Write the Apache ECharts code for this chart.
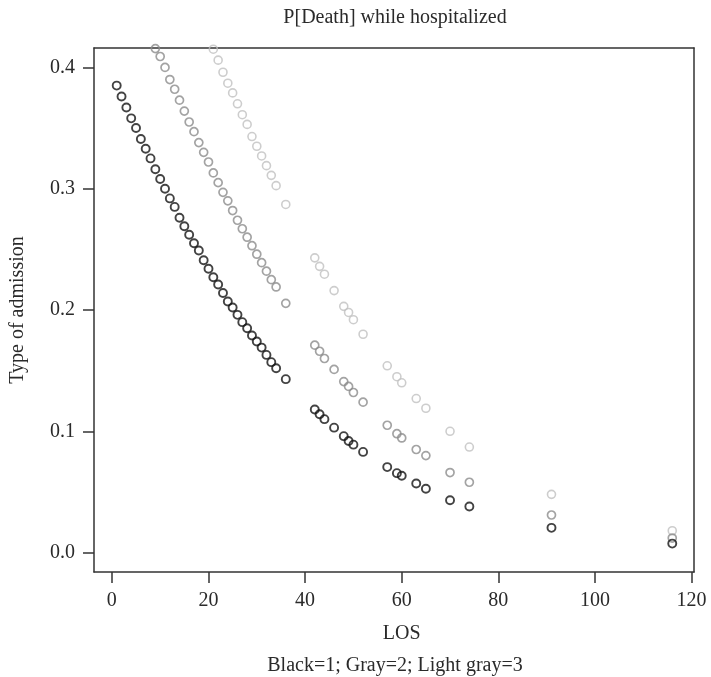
<!DOCTYPE html>
<html>
<head>
<meta charset="utf-8">
<script src="https://cdn.jsdelivr.net/npm/echarts@6/dist/echarts.min.js"></script>
<style>
  html, body { margin: 0; padding: 0; background: #fff; }
  #chart { width: 711px; height: 677px; }
</style>
</head>
<body>
<div id="chart"></div>
<script>
// LOS values per admission type
var losBlack = [1, 2, 3, 4, 5, 6, 7, 8, 9, 10, 11, 12, 13, 14, 15, 16, 17, 18, 19, 20,
  21, 22, 23, 24, 25, 26, 27, 28, 29, 30, 31, 32, 33, 34, 36,
  42, 43, 44, 46, 48, 49, 50, 52, 57, 59, 60, 63, 65, 70, 74, 91, 116]
var pBlack = [0.385, 0.376, 0.367, 0.358, 0.350, 0.341, 0.333, 0.325, 0.316, 0.308,
  0.300, 0.292, 0.285, 0.276, 0.269, 0.262, 0.255, 0.249, 0.241, 0.234,
  0.227, 0.221, 0.214, 0.207, 0.202, 0.196, 0.190, 0.185, 0.179, 0.174,
  0.169, 0.163, 0.157, 0.152, 0.143,
  0.118, 0.114, 0.110, 0.103, 0.096, 0.092, 0.089, 0.083, 0.0705, 0.0655,
  0.0634, 0.057, 0.0526, 0.0432, 0.038, 0.0204, 0.0074]

var losGray = [9, 10, 11, 12, 13, 14, 15, 16, 17, 18, 19, 20,
  21, 22, 23, 24, 25, 26, 27, 28, 29, 30, 31, 32, 33, 34, 36,
  42, 43, 44, 46, 48, 49, 50, 52, 57, 59, 60, 63, 65, 70, 74, 91, 116]
var pGray = [0.4155, 0.409, 0.400, 0.390, 0.382, 0.373, 0.364, 0.355, 0.347, 0.338,
  0.330, 0.322, 0.313, 0.305, 0.297, 0.290, 0.282, 0.274, 0.267, 0.260,
  0.253, 0.246, 0.239, 0.232, 0.225, 0.219, 0.2055,
  0.171, 0.166, 0.160, 0.151, 0.141, 0.137, 0.132, 0.124, 0.105, 0.098,
  0.0945, 0.085, 0.080, 0.066, 0.058, 0.031, 0.012]

var losLight = [21, 22, 23, 24, 25, 26, 27, 28, 29, 30, 31, 32, 33, 34, 36,
  42, 43, 44, 46, 48, 49, 50, 52, 57, 59, 60, 63, 65, 70, 74, 91, 116]
var pLight = [0.415, 0.406, 0.396, 0.387, 0.379, 0.370, 0.361, 0.353, 0.343, 0.335,
  0.327, 0.319, 0.311, 0.3025, 0.287,
  0.243, 0.236, 0.2295, 0.216, 0.203, 0.198, 0.192, 0.180, 0.154, 0.145,
  0.140, 0.127, 0.119, 0.100, 0.087, 0.048, 0.018]

// axis ranges: data range padded like R does, tick range is the labelled span
var xRange = [-3.7, 120.5]
var yRange = [-0.016, 0.416]
var xTickRange = [0, 120]
var yTickRange = [0, 0.4]

function pairs(xs, ys) {
  return xs.map(function (x, i) { return [x, ys[i]] })
}

var font = '"Liberation Serif", "DejaVu Serif", serif'
var ink = '#2a2a2a'
var lineCol = '#333'
var tickLen = 11

// plot box in pixels
var box = { left: 94, right: 17, top: 48, bottom: 105 }
var W = 711, H = 677
var plotW = W - box.left - box.right
var plotH = H - box.top - box.bottom
function xPx(v) { return box.left + (v - xRange[0]) / (xRange[1] - xRange[0]) * plotW }
function yPx(v) { return box.top + (yRange[1] - v) / (yRange[1] - yRange[0]) * plotH }

function pointSeries(name, xs, ys, color, bw) {
  return {
    name: name,
    type: 'scatter',
    xAxisIndex: 0,
    yAxisIndex: 0,
    data: pairs(xs, ys),
    symbol: 'circle',
    symbolSize: 8,
    clip: false,
    itemStyle: {
      color: 'rgba(0,0,0,0)',
      borderColor: color,
      borderWidth: bw
    }
  }
}

// tick marks are drawn as split lines of thin strips just outside the box
var tickLines = { show: true, showMinLine: true, showMaxLine: true, lineStyle: { color: lineCol, width: 1.5, type: 'solid' } }
var boxLine = { show: true, onZero: false, lineStyle: { color: lineCol, width: 1.5 } }
var labelStyle = { margin: 8, fontFamily: font, fontSize: 20, color: ink }
var nameStyle = { fontFamily: font, fontSize: 20, color: ink }

function boxAxis(gridIndex, position) {
  return {
    gridIndex: gridIndex, type: 'value', position: position, min: 0, max: 1,
    axisLine: boxLine, axisTick: { show: false }, axisLabel: { show: false },
    splitLine: { show: false }
  }
}

var chart = echarts.init(document.getElementById('chart'), null, { renderer: 'canvas' })

chart.setOption({
  backgroundColor: '#fff',
  animation: false,
  textStyle: { fontFamily: font, color: ink },
  grid: [
    // data box
    {
      left: box.left, right: box.right, top: box.top, bottom: box.bottom,
      show: false, containLabel: false, outerBoundsMode: 'none'
    },
    // x tick strip below the box, spanning 0..120
    {
      left: xPx(xTickRange[0]), right: W - xPx(xTickRange[1]),
      top: H - box.bottom, bottom: box.bottom - tickLen,
      show: false, containLabel: false, outerBoundsMode: 'none'
    },
    // y tick strip left of the box, spanning 0..0.4
    {
      left: box.left - tickLen, right: W - box.left,
      top: yPx(yTickRange[1]), bottom: H - yPx(yTickRange[0]),
      show: false, containLabel: false, outerBoundsMode: 'none'
    }
  ],
  xAxis: [
    {
      gridIndex: 0, type: 'value', position: 'bottom', min: xRange[0], max: xRange[1],
      axisLine: boxLine, axisTick: { show: false }, axisLabel: { show: false },
      splitLine: { show: false }
    },
    {
      gridIndex: 1, type: 'value', min: xTickRange[0], max: xTickRange[1], interval: 20,
      name: 'LOS', nameLocation: 'middle', nameGap: 41, nameTextStyle: nameStyle,
      axisLine: { show: false }, axisTick: { show: false },
      splitLine: tickLines, axisLabel: labelStyle
    },
    { gridIndex: 2, type: 'value', min: 0, max: 1, show: false },
    boxAxis(0, 'top')
  ],
  yAxis: [
    {
      gridIndex: 0, type: 'value', position: 'left', min: yRange[0], max: yRange[1],
      axisLine: boxLine, axisTick: { show: false }, axisLabel: { show: false },
      splitLine: { show: false }
    },
    { gridIndex: 1, type: 'value', min: 0, max: 1, show: false },
    {
      gridIndex: 2, type: 'value', min: yTickRange[0], max: yTickRange[1], interval: 0.1,
      name: 'Type of admission', nameLocation: 'middle', nameGap: 55, nameRotate: 90,
      nameTextStyle: nameStyle,
      axisLine: { show: false }, axisTick: { show: false },
      splitLine: tickLines,
      axisLabel: Object.assign({}, labelStyle, {
        formatter: function (v) { return v.toFixed(1) }
      })
    },
    boxAxis(0, 'right')
  ],
  graphic: [
    {
      type: 'text',
      x: 395,
      y: 18,
      style: {
        text: 'P[Death] while hospitalized',
        font: '20px ' + font,
        fill: ink,
        textAlign: 'center',
        textVerticalAlign: 'middle'
      }
    },
    {
      type: 'text',
      x: 395,
      y: 666,
      style: {
        text: 'Black=1; Gray=2; Light gray=3',
        font: '20px ' + font,
        fill: ink,
        textAlign: 'center',
        textVerticalAlign: 'middle'
      }
    }
  ],
  series: [
    pointSeries('Light gray=3', losLight, pLight, '#c0c0c0', 1.6),
    pointSeries('Gray=2', losGray, pGray, '#8c8c8c', 1.7),
    pointSeries('Black=1', losBlack, pBlack, '#141414', 1.9)
  ]
})
</script>
</body>
</html>
